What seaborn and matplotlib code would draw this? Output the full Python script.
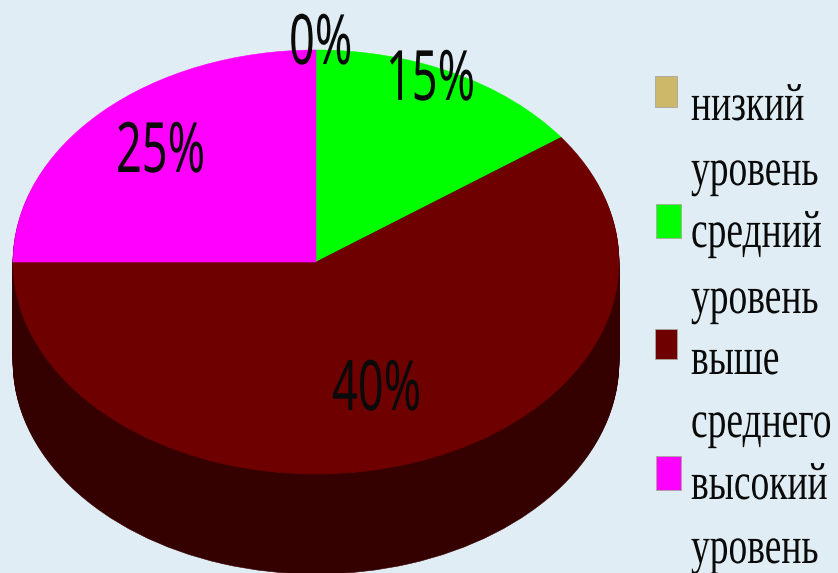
import matplotlib
matplotlib.use("Agg")
import matplotlib.pyplot as plt
import matplotlib.patheffects as pe
from matplotlib.patches import Rectangle
from matplotlib.transforms import Affine2D
import seaborn as sns

# Survey results: share of respondents per level, in percent
levels = ["низкий уровень", "средний уровень", "выше среднего", "высокий уровень"]
shares = [0, 15, 40, 25]
level_colors = ["#cdb768", "#00ff00", "#6e0000", "#ff00ff"]
remainder = 100 - sum(shares)  # the stated shares leave a part, shown in the 40 % colour

W, H = 838, 573
CX, CY, RX, RY, DEPTH = 316, 262, 303, 212, 100

sns.set_theme(style="white", font="Liberation Serif")
palette = sns.color_palette(level_colors)
SIDE = "#350000"
BG = "#e0edf4"


class Stretched(pe.AbstractPathEffect):
    """Scales glyph outlines about their origin, for tall condensed lettering."""

    def __init__(self, sx, sy):
        super().__init__()
        self.sx, self.sy = sx, sy

    def draw_path(self, renderer, gc, tpath, affine, rgbFace=None):
        renderer.draw_path(gc, tpath, Affine2D().scale(self.sx, self.sy) + affine, rgbFace)


fig = plt.figure(figsize=(W / 100, H / 100), dpi=100, facecolor=BG)
ax = fig.add_axes([0, 0, 1, 1])

# Wedge order: clockwise from twelve o'clock, the remainder sits after the 40 % wedge
slice_values = shares[:3] + [remainder] + shares[3:]
slice_colors = list(palette[:3]) + [palette[2], palette[3]]

y_scale = RX / RY  # circles in data space become flattened ellipses on screen


def disc(offset, colors):
    wedges, _ = ax.pie(slice_values, colors=colors, radius=RX, startangle=90,
                       counterclock=False, center=(CX, -offset * y_scale))
    for w, c in zip(wedges, colors):
        w.set_edgecolor(c)
        w.set_linewidth(0.4)


# Side wall: stacked copies of the disc in the dark shade, then the top face
for off in range(DEPTH, 0, -1):
    disc(off, [SIDE] * len(slice_values))
disc(0, slice_colors)

ax.set_aspect("auto")
ax.set_xlim(0, W)
ax.set_ylim((CY - H) * y_scale, CY * y_scale)
ax.set_axis_off()

# Screen-style coordinates for annotations: origin top left, y pointing down
px = Affine2D().scale(1 / W, -1 / H).translate(0, 1) + fig.transFigure

# Percent labels (left edge, baseline)
pct_xy = [(289, 64), (386, 100), (332, 410), (116, 172)]
for value, (x, y) in zip(shares, pct_xy):
    ax.text(x, y, f"{value}%", transform=px, family="Noto Sans",
            fontsize=50, color="#0a0a0a", ha="left", va="baseline",
            path_effects=[Stretched(0.65, 1.0)], clip_on=False)

# Legend swatches
swatches = [(655, 76, 22, 31), (656, 204, 25, 34), (655, 329, 22, 30), (656, 456, 25, 34)]
for color, (x, y, w, h) in zip(palette, swatches):
    ax.add_patch(Rectangle((x, y), w, h, transform=px, facecolor=color,
                           edgecolor="#a8a8a0", linewidth=0.6, clip_on=False))

# Legend text, each entry wrapped on two lines
legend_baselines = [120, 185, 247, 313, 374, 437, 499, 563]
legend_lines = [word for name in levels for word in name.split()]
for word, y in zip(legend_lines, legend_baselines):
    ax.text(691, y, word, transform=px, fontsize=27, color="#0a0a0a",
            ha="left", va="baseline", path_effects=[Stretched(1.0, 1.4)], clip_on=False)

fig.savefig("out.png", dpi=100, facecolor=BG)
